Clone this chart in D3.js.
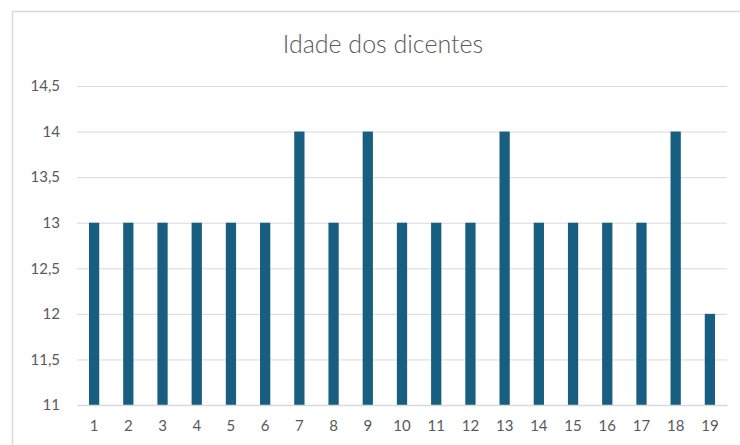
<!DOCTYPE html>
<html>
<head>
<meta charset="utf-8">
<script src="https://cdn.jsdelivr.net/npm/d3@7"></script>
<style>
  body { margin: 0; background: #fff; }
  svg { display: block; font-family: "Lato", "Open Sans", sans-serif; }
</style>
</head>
<body>
<div id="chart"></div>
<script>
// chart values
var alunos = ["1","2","3","4","5","6","7","8","9","10","11","12","13","14","15","16","17","18","19"];
var idades = [13,13,13,13,13,13,14,13,14,13,13,13,14,13,13,13,13,14,12];
var yTicks = [11, 11.5, 12, 12.5, 13, 13.5, 14, 14.5];
var titulo = "Idade dos dicentes";

var width = 740, height = 445;
var svg = d3.select("#chart").append("svg")
    .attr("width", width)
    .attr("height", height);

// outer frame (runs off the right and bottom edges)
svg.append("rect")
    .attr("x", 12.5).attr("y", 11.5)
    .attr("width", 740).attr("height", 445)
    .attr("fill", "#fff")
    .attr("stroke", "#d9d9d9")
    .attr("stroke-width", 1.5);

svg.append("text")
    .attr("x", 383).attr("y", 53)
    .attr("text-anchor", "middle")
    .attr("fill", "#595959")
    .style("font-size", "25px")
    .style("font-weight", "300")
    .text(titulo);

var x = d3.scaleBand().domain(alunos).range([77, 727]).paddingInner(0.7).paddingOuter(0.35);
var y = d3.scaleLinear().domain([11, 14.5]).range([405, 86]);

// gridlines
svg.append("g").selectAll("line")
    .data(yTicks.slice(1))
    .join("line")
    .attr("x1", 77).attr("x2", 727)
    .attr("y1", function (d) { return y(d) + 0.5; })
    .attr("y2", function (d) { return y(d) + 0.5; })
    .attr("stroke", "#d9d9d9")
    .attr("stroke-width", 1);

// bars
svg.append("g").selectAll("rect")
    .data(idades)
    .join("rect")
    .attr("x", function (d, i) { return x(alunos[i]); })
    .attr("y", function (d) { return y(d); })
    .attr("width", x.bandwidth())
    .attr("height", function (d) { return y(11) - y(d); })
    .attr("fill", "#175e80");

// y axis labels
var yAxis = d3.axisLeft(y)
    .tickValues(yTicks)
    .tickSize(0)
    .tickPadding(0)
    .tickFormat(function (d) { return String(d).replace(".", ","); });
var gy = svg.append("g").attr("transform", "translate(60,0)").call(yAxis);
gy.select(".domain").remove();
gy.selectAll("text").attr("fill", "#595959").style("font-size", "15px").style("font-family", "Lato, 'Open Sans', sans-serif");

// x axis
var xAxis = d3.axisBottom(x).tickSize(0).tickPadding(15);
var gx = svg.append("g").attr("transform", "translate(0,405)").call(xAxis);
gx.select(".domain").attr("stroke", "#d9d9d9").attr("stroke-width", 1.5);
gx.selectAll("text").attr("fill", "#595959").style("font-size", "15px").style("font-family", "Lato, 'Open Sans', sans-serif");
</script>
</body>
</html>
